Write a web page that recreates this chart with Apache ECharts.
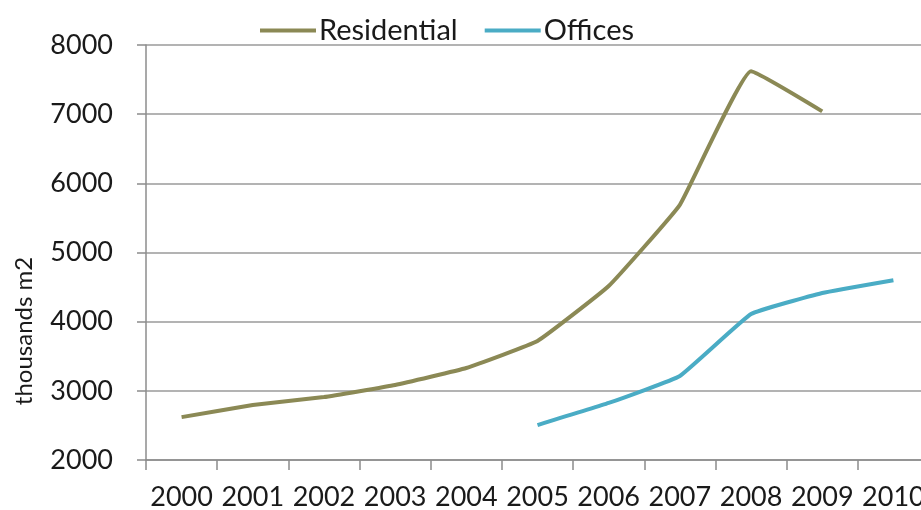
<!DOCTYPE html>
<html>
<head>
<meta charset="utf-8">
<script src="https://cdn.jsdelivr.net/npm/echarts@6/dist/echarts.min.js"></script>
<style>
  html, body { margin: 0; padding: 0; background: #fff; }
  #chart { width: 921px; height: 510px; }
</style>
</head>
<body>
<div id="chart"></div>
<script>
// Floor space completed per year, thousands of m2
const years = ['2000', '2001', '2002', '2003', '2004', '2005', '2006', '2007', '2008', '2009', '2010'];
const residential = [2620, 2795, 2910, 3085, 3330, 3720, 4515, 5690, 7620, 7040, null];
const offices = [null, null, null, null, null, 2505, 2825, 3215, 4110, 4415, 4600];

const FONT = 'Lato, "Open Sans", sans-serif';
const chart = echarts.init(document.getElementById('chart'));

chart.setOption({
  animation: false,
  backgroundColor: '#ffffff',
  textStyle: { fontFamily: FONT },
  legend: {
    left: 255,
    top: 11,
    itemWidth: 56,
    itemHeight: 4,
    itemGap: 27,
    icon: 'rect',
    textStyle: { fontSize: 29, color: '#1a1a1a', fontFamily: FONT, padding: [0, 0, 0, -2] },
    data: ['Residential', 'Offices']
  },
  // the last category runs past the right edge of the canvas
  grid: { left: 146, width: 783, top: 45, bottom: 50, outerBoundsMode: 'none', containLabel: false },
  xAxis: {
    type: 'category',
    data: years,
    boundaryGap: true,
    axisLine: { lineStyle: { color: '#8c8c8c', width: 1.5 } },
    axisTick: { show: true, length: 10, lineStyle: { color: '#8c8c8c', width: 1.5 } },
    axisLabel: { fontSize: 27, color: '#1a1a1a', margin: 24, fontFamily: FONT, interval: 0 }
  },
  yAxis: {
    type: 'value',
    min: 2000,
    max: 8000,
    interval: 1000,
    axisLine: { show: true, lineStyle: { color: '#8c8c8c', width: 1.5 } },
    axisTick: { show: true, length: 9, lineStyle: { color: '#8c8c8c', width: 1.5 } },
    splitLine: { lineStyle: { color: '#9a9a9a', width: 1.5 } },
    axisLabel: {
      fontSize: 27, color: '#1a1a1a', margin: 33, fontFamily: FONT,
      formatter: v => String(v)
    }
  },
  graphic: [{
    type: 'text',
    x: 24,
    y: 331,
    rotation: Math.PI / 2,
    style: {
      text: 'thousands m2',
      fontSize: 24,
      fontFamily: FONT,
      fill: '#1a1a1a',
      textAlign: 'center',
      textVerticalAlign: 'middle'
    }
  }],
  series: [
    {
      name: 'Residential',
      type: 'line',
      data: residential,
      smooth: 0.1,
      symbol: 'none',
      connectNulls: false,
      color: '#8b8955',
      lineStyle: { color: '#8b8955', width: 4 }
    },
    {
      name: 'Offices',
      type: 'line',
      data: offices,
      smooth: 0.1,
      symbol: 'none',
      connectNulls: false,
      color: '#4aacc5',
      lineStyle: { color: '#4aacc5', width: 4 }
    }
  ]
});
</script>
</body>
</html>
